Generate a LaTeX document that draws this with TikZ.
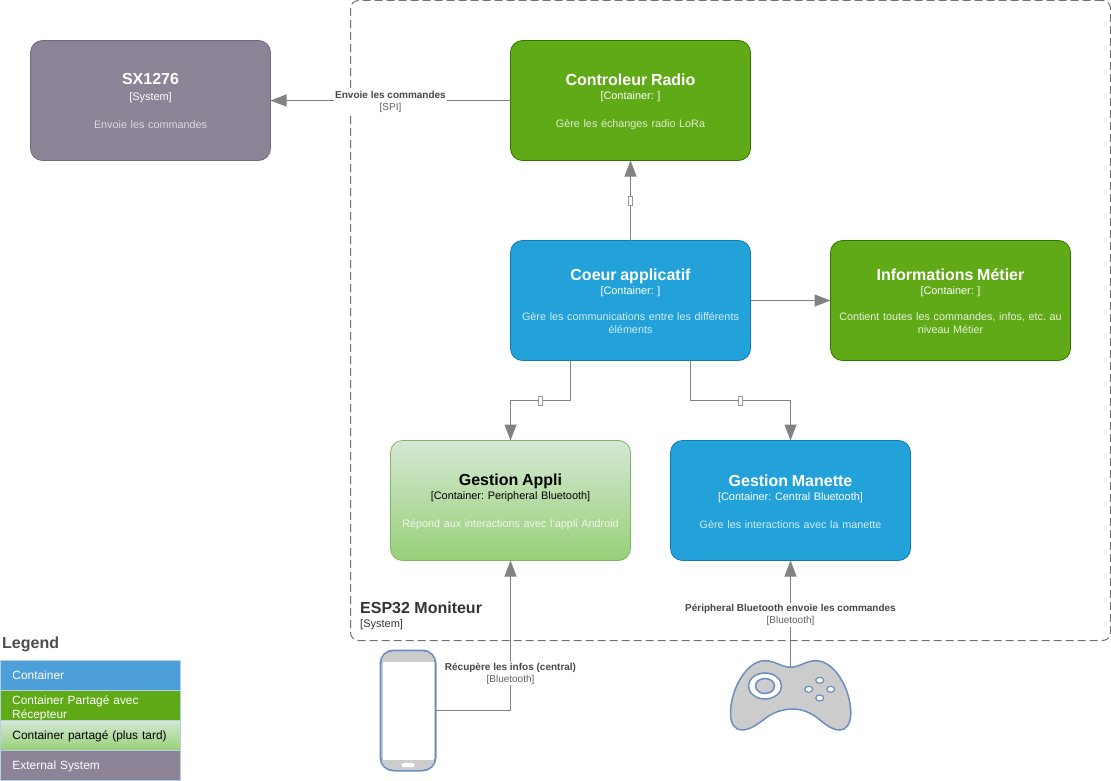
\documentclass[tikz,border=0pt]{standalone}
\usepackage{fontspec}
\setmainfont{Liberation Sans}
\usetikzlibrary{arrows.meta,calc}
\definecolor{cblue}{HTML}{23A2D9}
\definecolor{cblueb}{HTML}{0E7DAD}
\definecolor{cgreen}{HTML}{60A917}
\definecolor{cgreenb}{HTML}{2D7600}
\definecolor{cpurple}{HTML}{8C8496}
\definecolor{cpurpleb}{HTML}{736782}
\definecolor{gtop}{HTML}{D5E8D4}
\definecolor{gbot}{HTML}{97D077}
\definecolor{gbord}{HTML}{82B366}
\definecolor{lblue}{HTML}{4D9FD9}
\definecolor{lbord}{HTML}{B5CFE3}
\definecolor{edge}{HTML}{828282}
\definecolor{frame}{HTML}{707070}
\definecolor{pad}{HTML}{6C8EBF}
\definecolor{padfill}{HTML}{CCCCCC}
\tikzset{
  x=1pt,y=-1pt,
  box/.style={rounded corners=12pt,minimum width=240pt,minimum height=120pt,inner sep=0pt,outer sep=0pt,
     text width=238pt,align=center,line width=.8pt,text=white,
     font=\fontsize{11}{13}\selectfont\frenchspacing},
  bluebox/.style={box,fill=cblue,draw=cblueb},
  greenbox/.style={box,fill=cgreen,draw=cgreenb},
  purplebox/.style={box,fill=cpurple,draw=cpurpleb},
  gradbox/.style={box,top color=gtop,bottom color=gbot,draw=gbord,text=black},
  conn/.style={draw=edge,line width=1pt,-{Triangle[length=16pt,width=12pt,fill=edge]}},
  lab/.style={fill=white,inner xsep=1pt,inner ysep=1pt,align=center,text=black!72,
     font=\fontsize{10}{12}\selectfont\frenchspacing},
  tiny/.style={fill=white,draw=black!40,line width=.6pt,minimum width=4pt,minimum height=9pt,inner sep=0pt},
  legcell/.style={minimum width=180pt,minimum height=30pt,inner xsep=12pt,inner ysep=0pt,outer sep=0pt,
     text width=156pt,align=left,text=white,draw=lbord,line width=.6pt,text height=10pt,text depth=2pt,
     font=\fontsize{11.9}{14}\selectfont\frenchspacing},
  legtext/.style={anchor=north west,inner sep=0pt,text width=156pt,align=left,text=white,
     font=\fontsize{11.9}{14}\selectfont\frenchspacing},
  padline/.style={draw=pad,line width=1.5pt},
}
% one-line description: taller gap and top strut
\newcommand{\boxtext}[4]{\rule{0pt}{14.6pt}{\fontsize{16}{16}\selectfont\bfseries #1}\\[1pt]{\fontsize{10.9}{13}\selectfont #2}\\[15pt]{\fontsize{10.8}{13}\selectfont\textcolor{#4}{#3}}}
% two-line description
\newcommand{\boxtexttwo}[4]{\rule{0pt}{12.6pt}{\fontsize{16}{16}\selectfont\bfseries #1}\\[1pt]{\fontsize{10.9}{13}\selectfont #2}\\[13pt]{\fontsize{10.8}{13}\selectfont\textcolor{#4}{#3}}}
\begin{document}
\begin{tikzpicture}
\useasboundingbox (0,0) rectangle (1111,781);
% system frame
\node[draw=frame,line width=1pt,dash pattern=on 8pt off 4pt,rounded corners=8pt,minimum width=760pt,minimum height=640pt,inner sep=0pt,outer sep=0pt] (frame) at (730.5,320.5) {};
\node[anchor=base west,inner sep=0pt,text=black!80,font=\fontsize{16}{16}\selectfont\bfseries] (esp) at (360,613) {ESP32 Moniteur};
\node[anchor=base west,inner sep=0pt,text=black!80,font=\fontsize{11}{13}\selectfont] (espsub) at (360,627) {[System]};
% boxes
\node[purplebox] (sx) at (150.5,100.5) {{\fontsize{16}{16}\selectfont\bfseries SX1276}\\[3pt]{\fontsize{10.9}{13}\selectfont [System]}\\[15pt]{\fontsize{10.8}{13}\selectfont\textcolor{white!70!cpurple}{Envoie les commandes}}};
\node[greenbox] (radio) at (630.5,100.5) {\boxtext{Controleur Radio}{[Container: ]}{Gère les échanges radio LoRa}{white!80!cgreen}};
\node[bluebox] (coeur) at (630.5,300.5) {\boxtexttwo{Coeur applicatif}{[Container: ]}{Gère les communications entre les différents\\éléments}{white!80!cblue}};
\node[greenbox] (info) at (950.5,300.5) {\boxtexttwo{Informations Métier}{[Container: ]}{Contient toutes les commandes, infos, etc. au\\niveau Métier}{white!85!cgreen}};
\node[gradbox] (appli) at (510.5,500.5) {\boxtext{Gestion Appli}{[Container: Peripheral Bluetooth]}{Répond aux interactions avec l'appli Android}{white!85!gbot}};
\node[bluebox] (manette) at (790.5,500.5) {\boxtext{Gestion Manette}{[Container: Central Bluetooth]}{Gère les interactions avec la manette}{white!80!cblue}};
% phone
\node[draw=pad,line width=2pt,fill=white,rounded corners=13pt,minimum width=55pt,minimum height=120pt,inner sep=0pt,outer sep=0pt] (phone) at (408,710.5) {};
\begin{scope}
\clip[rounded corners=12pt] (381,651.5) rectangle (435,769.5);
\fill[padfill] (381,651) rectangle (435,661);
\fill[padfill] (381,760) rectangle (435,770);
\draw[padfill,line width=1pt] (382,661) rectangle (434,760);
\end{scope}
\node[fill=white,rounded corners=1.5pt,minimum width=13pt,minimum height=4pt,inner sep=0pt] (phonebtn) at (408,765) {};
% gamepad
\coordinate (padtop) at (790.5,667.3);
\path[padline,fill=padfill] (padtop)
  .. controls (800,667) and (806,660.7) .. (815.7,660.7)
  .. controls (835,660.7) and (851,690) .. (850.8,713.3)
  .. controls (850.7,724) and (846,730) .. (840,730)
  .. controls (832,730) and (826,725) .. (820,720)
  .. controls (812,713) and (802,709) .. (793,709)
  .. controls (782,709) and (772,713) .. (766,718)
  .. controls (758,724) and (750,730) .. (741.7,730)
  .. controls (735,730) and (730.5,724) .. (730.5,713.3)
  .. controls (730.5,690) and (746,660.7) .. (765,660.7)
  .. controls (775,660.7) and (781,667) .. (padtop) -- cycle;
\path[padline,fill=white] (765,686) ellipse [x radius=16.5,y radius=13];
\path[padline,fill=padfill] (765,686) ellipse [x radius=9.5,y radius=7.5];
\path[padline,line width=1.2pt,fill=white] (819.7,680.3) ellipse [x radius=4,y radius=3];
\path[padline,line width=1.2pt,fill=white] (808.7,689.3) ellipse [x radius=4,y radius=3];
\path[padline,line width=1.2pt,fill=white] (830.7,689.3) ellipse [x radius=4,y radius=3];
\path[padline,line width=1.2pt,fill=white] (819.7,698) ellipse [x radius=4,y radius=3];
% connectors
\coordinate (k1) at (570.5,400.5);
\coordinate (k2) at (510.5,400.5);
\coordinate (k3) at (690.5,400.5);
\coordinate (k4) at (790.5,400.5);
\draw[conn] (radio.west) -- (sx.east);
\draw[conn] (coeur.north) -- (radio.south);
\draw[conn] (coeur.east) -- (info.west);
\draw[conn] (coeur.south -| k1) -- (k1) -- (k2) -- (appli.north);
\draw[conn] (coeur.south -| k3) -- (k3) -- (k4) -- (manette.north);
\draw[conn] (phone.east) -| (appli.south);
\draw[conn] (padtop) -- (manette.south);
% labels
\node[lab] (l1) at (390.5,102) {\textbf{Envoie les commandes}\\\textcolor{black!62}{[SPI]}};
\node[tiny] (t1) at (630.5,200.5) {};
\node[tiny] (t2) at (540.5,400.5) {};
\node[tiny] (t3) at (740.5,400.5) {};
\node[lab] (l2) at (510.5,673.5) {\textbf{Récupère les infos (central)}\\\textcolor{black!62}{[Bluetooth]}};
\node[lab] (l3) at (790.5,615) {\textbf{Péripheral Bluetooth envoie les commandes}\\\textcolor{black!62}{[Bluetooth]}};
% legend
\node[anchor=base west,inner sep=0pt,text=black!70,font=\fontsize{16}{16}\selectfont\bfseries] (legend) at (2,648) {Legend};
\node[legcell,fill=lblue] (lg1) at (90.5,675.5) {Container};
\node[legcell,fill=cgreen] (lg2) at (90.5,705.5) {};
\node[legtext] (lg2t) at (12,696) {Container Partagé avec\\Récepteur};
\node[legcell,top color=gtop,bottom color=gbot,text=black] (lg3) at (90.5,735.5) {Container partagé (plus tard)};
\node[legcell,fill=cpurple] (lg4) at (90.5,765.5) {External System};
\end{tikzpicture}
\end{document}
